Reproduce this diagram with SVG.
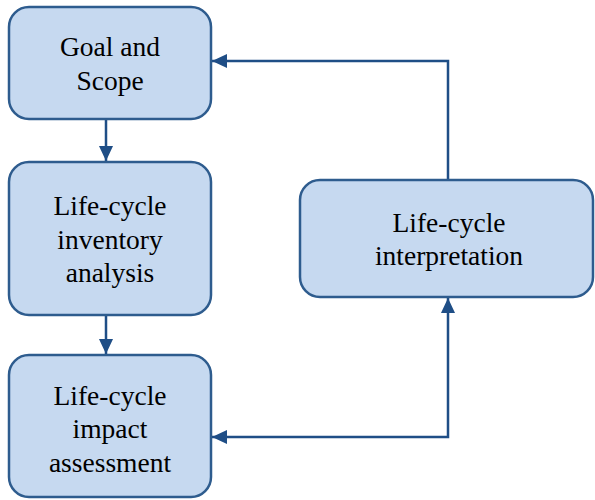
<svg xmlns="http://www.w3.org/2000/svg" width="595" height="500" viewBox="0 0 595 500">
<style>
.box{fill:#c6d9f0;stroke:#2e5c8e;stroke-width:2.5}
.t{font-family:'Liberation Serif','Times New Roman',Times,Tinos,'Noto Serif','DejaVu Serif',FreeSerif,serif;font-size:27.5px;fill:#000;text-anchor:middle}
.c{fill:none;stroke:#1f4e86;stroke-width:2.5}
</style>
<defs>
<marker id="ah2" markerWidth="16" markerHeight="14" refX="15" refY="7" orient="auto-start-reverse" markerUnits="userSpaceOnUse">
<path d="M0,0 L15,7 L0,14 Z" fill="#1f4e86"/>
</marker>
</defs>
<g id="connectors">
<line class="c" x1="106" y1="120" x2="106" y2="161" marker-end="url(#ah2)"/>
<line class="c" x1="106" y1="316" x2="106" y2="354" marker-end="url(#ah2)"/>
<polyline class="c" points="448,180 448,61 212,61" marker-end="url(#ah2)"/>
<polyline class="c" points="212,437 448,437 448,298" marker-start="url(#ah2)" marker-end="url(#ah2)"/>
</g>
<g id="goal">
<rect class="box" x="9" y="7" width="202" height="112" rx="20"/>
<text class="t" x="110" y="56">Goal and</text>
<text class="t" x="110" y="90">Scope</text>
</g>
<g id="inventory">
<rect class="box" x="9" y="162" width="202" height="153" rx="20"/>
<text class="t" x="110" y="215">Life-cycle</text>
<text class="t" x="110" y="249">inventory</text>
<text class="t" x="110" y="282">analysis</text>
</g>
<g id="impact">
<rect class="box" x="9" y="355" width="202" height="142" rx="20"/>
<text class="t" x="110" y="405">Life-cycle</text>
<text class="t" x="110" y="438">impact</text>
<text class="t" x="110" y="472">assessment</text>
</g>
<g id="interpretation">
<rect class="box" x="300" y="180" width="293" height="117" rx="20"/>
<text class="t" x="449" y="232">Life-cycle</text>
<text class="t" x="449" y="265">interpretation</text>
</g>
</svg>
